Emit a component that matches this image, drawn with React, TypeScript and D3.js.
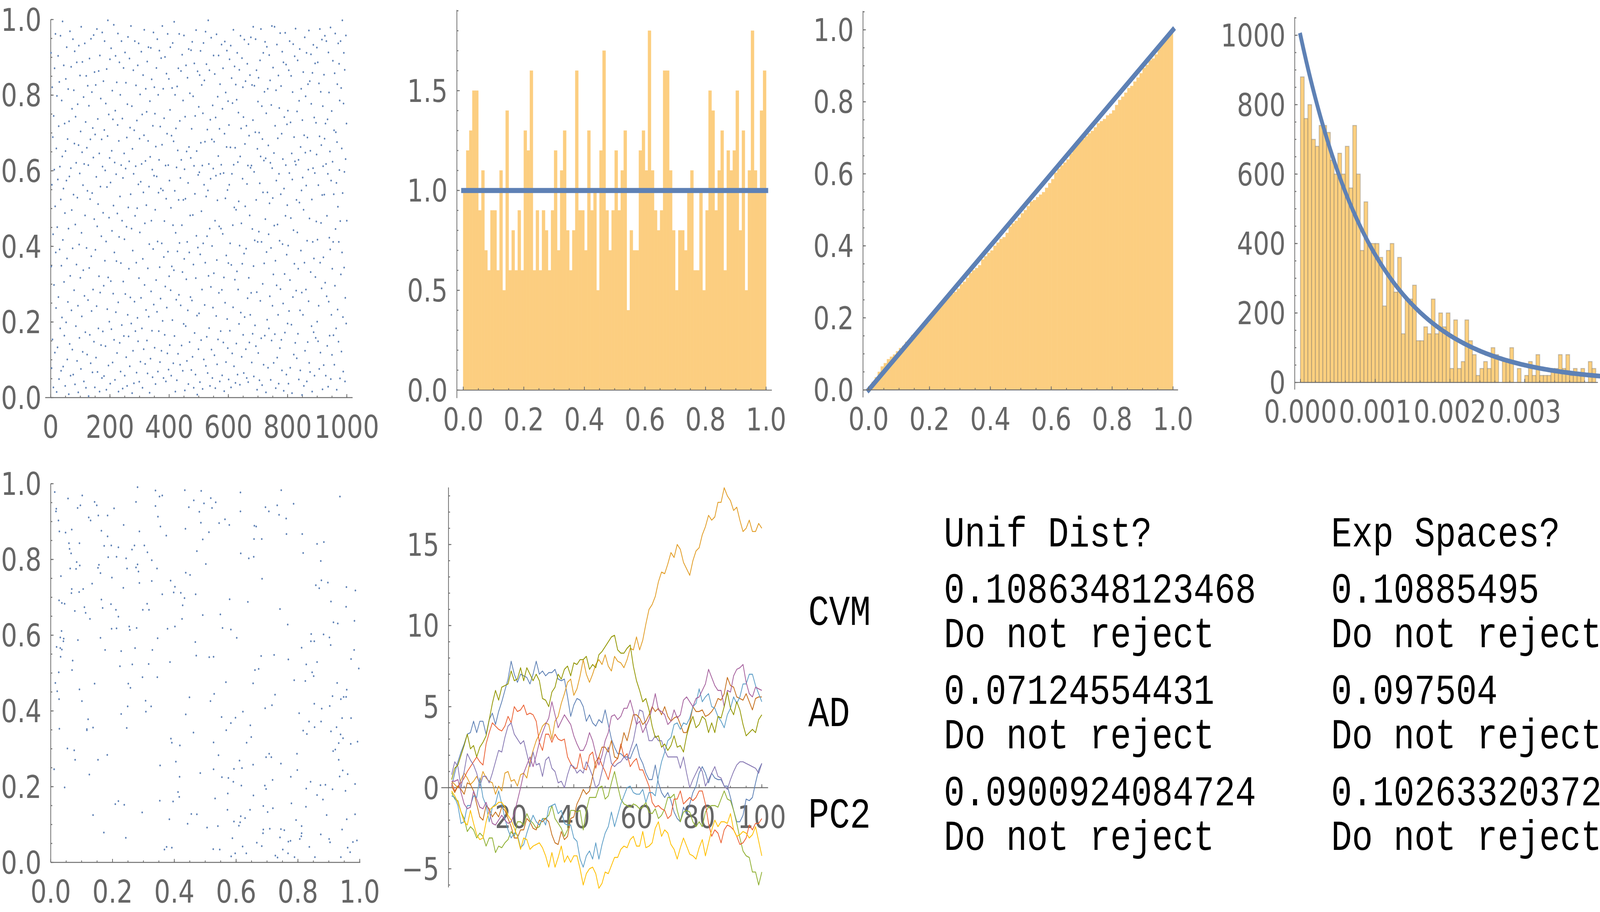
import * as d3 from "d3";

// ---------- data ----------

// 1000 uniform draws (top-left list plot, x = draw index)
const uniformDraws = [
  .912,.347,.078,.563,.821,.154,.689,.432,.027,.745,.298,.603,.871,.119,.506,.962,.384,.237,.659,.015,.798,.451,.133,.577,.904,
  .266,.718,.049,.835,.392,.611,.183,.957,.524,.071,.349,.786,.212,.638,.995,.417,.082,.553,.879,.306,.164,.725,.488,.031,.652,
  .843,.199,.574,.927,.368,.101,.684,.253,.816,.447,.009,.731,.585,.142,.969,.322,.058,.607,.875,.231,.496,.764,.127,.395,.948,
  .061,.537,.813,.284,.672,.916,.035,.458,.743,.189,.621,.352,.887,.097,.529,.776,.243,.014,.668,.931,.405,.158,.593,.852,.317,
  .704,.076,.981,.436,.215,.649,.888,.121,.562,.337,.795,.043,.618,.269,.937,.482,.173,.729,.026,.851,.396,.661,.114,.547,.825,
  .258,.615,.004,.772,.343,.897,.166,.525,.683,.091,.949,.374,.229,.808,.541,.067,.713,.286,.635,.959,.148,.472,.861,.027,.696,
  .391,.827,.106,.584,.242,.975,.453,.068,.737,.512,.183,.864,.321,.646,.016,.905,.278,.558,.791,.139,.427,.683,.052,.966,.611,
  .175,.489,.837,.296,.057,.708,.943,.362,.601,.136,.778,.413,.021,.869,.557,.234,.692,.998,.318,.085,.749,.476,.201,.634,.895,
  .037,.569,.308,.924,.181,.653,.441,.812,.093,.736,.275,.508,.986,.153,.384,.622,.047,.759,.904,.226,.591,.361,.834,.118,.487,
  .721,.963,.252,.016,.679,.425,.887,.145,.532,.801,.069,.356,.615,.943,.192,.468,.738,.024,.581,.307,.872,.163,.646,.419,.058,
  .913,.274,.606,.833,.107,.452,.688,.031,.776,.219,.954,.503,.162,.341,.625,.897,.083,.714,.265,.538,.983,.196,.447,.771,.012,
  .658,.389,.124,.866,.592,.038,.707,.254,.943,.481,.176,.612,.826,.357,.066,.733,.501,.211,.879,.149,.564,.937,.316,.042,.685,
  .437,.802,.095,.571,.264,.915,.618,.183,.749,.026,.367,.853,.543,.128,.694,.973,.298,.461,.089,.626,.817,.232,.509,.756,.151,
  .889,.064,.342,.679,.927,.214,.558,.406,.013,.784,.637,.103,.925,.281,.468,.842,.177,.603,.054,.719,.393,.966,.246,.587,.821,
  .132,.751,.497,.036,.664,.311,.872,.585,.227,.948,.413,.069,.801,.542,.176,.629,.918,.345,.094,.717,.262,.553,.898,.124,.408,
  .669,.983,.203,.548,.817,.052,.372,.739,.467,.166,.901,.294,.614,.043,.526,.857,.238,.698,.117,.962,.386,.615,.074,.843,.321,
  .574,.139,.761,.927,.284,.502,.058,.693,.347,.819,.205,.938,.456,.091,.678,.337,.994,.163,.547,.801,.016,.436,.712,.259,.609,
  .046,.823,.387,.654,.116,.871,.523,.272,.962,.409,.732,.087,.581,.244,.864,.629,.138,.456,.907,.332,.071,.786,.523,.195,.958,
  .367,.604,.019,.743,.526,.189,.879,.313,.651,.097,.412,.846,.231,.568,.036,.922,.663,.384,.147,.805,.482,.266,.634,.919,.073,
  .711,.257,.941,.108,.483,.797,.352,.026,.613,.884,.171,.539,.745,.061,.316,.972,.428,.652,.217,.008,.863,.397,.589,.128,.769,
  .223,.596,.853,.041,.379,.917,.674,.152,.493,.827,.286,.614,.023,.752,.408,.938,.101,.563,.839,.245,.677,.357,.968,.084,.532,
  .882,.161,.427,.709,.065,.548,.998,.322,.618,.184,.866,.447,.031,.735,.579,.293,.952,.127,.683,.401,.052,.773,.238,.606,.905,
  .329,.677,.112,.856,.468,.025,.741,.587,.216,.961,.364,.088,.522,.796,.154,.639,.905,.277,.453,.711,.043,.829,.592,.176,.447,
  .616,.934,.285,.059,.764,.433,.871,.146,.594,.318,.017,.698,.942,.251,.527,.807,.094,.376,.663,.918,.208,.549,.131,.784,.356,
  .048,.721,.563,.895,.177,.408,.662,.931,.027,.351,.845,.592,.117,.779,.456,.239,.973,.616,.083,.503,.876,.312,.661,.039,.828,
  .497,.143,.788,.334,.912,.061,.623,.286,.754,.519,.195,.867,.402,.034,.638,.957,.225,.712,.461,.108,.898,.354,.579,.821,.166,
  .742,.065,.381,.947,.213,.671,.506,.837,.128,.394,.719,.052,.565,.883,.263,.614,.041,.935,.317,.693,.146,.482,.853,.219,.608,
  .953,.277,.614,.093,.827,.446,.169,.734,.981,.348,.056,.597,.825,.416,.191,.702,.948,.136,.523,.866,.279,.021,.658,.412,.783,
  .118,.846,.439,.701,.046,.567,.892,.256,.638,.975,.157,.412,.771,.033,.684,.301,.543,.912,.087,.627,.355,.809,.164,.941,.472,
  .633,.014,.752,.385,.928,.206,.543,.817,.079,.667,.432,.183,.906,.514,.268,.839,.621,.047,.396,.774,.151,.983,.607,.243,.528,
  .873,.326,.092,.647,.455,.981,.168,.719,.362,.025,.813,.574,.297,.934,.106,.458,.686,.219,.852,.037,.592,.766,.415,.131,.964,
  .287,.538,.824,.153,.698,.072,.915,.406,.631,.249,.887,.018,.553,.742,.327,.172,.965,.481,.615,.881,.061,.378,.723,.509,.196,
  .759,.402,.037,.866,.229,.594,.943,.311,.079,.728,.475,.851,.193,.646,.012,.577,.808,.266,.935,.443,.114,.689,.354,.903,.625,
  .145,.976,.616,.283,.523,.104,.757,.437,.892,.169,.341,.629,.048,.785,.516,.922,.231,.072,.663,.389,.817,.548,.278,.007,.734,
  .582,.219,.861,.497,.031,.694,.357,.953,.124,.648,.797,.286,.561,.912,.043,.415,.688,.147,.829,.603,.255,.971,.092,.474,.837,
  .068,.653,.332,.908,.777,.189,.524,.016,.859,.412,.607,.933,.173,.368,.741,.058,.594,.884,.319,.158,.727,.466,.643,.926,.201,
  .418,.887,.149,.562,.243,.831,.076,.691,.975,.357,.119,.809,.462,.668,.289,.947,.536,.022,.771,.612,.371,.086,.854,.537,.685,
  .957,.304,.725,.058,.618,.943,.268,.481,.137,.736,.592,.029,.913,.254,.807,.423,.164,.651,.392,.979,.049,.574,.219,.758,.113,
  .341,.624,.891,.412,.165,.538,.707,.087,.858,.296,.963,.446,.702,.183,.568,.021,.676,.829,.233,.505,.937,.148,.412,.883,.602,
  .786,.051,.467,.943,.326,.819,.122,.659,.384,.998,.541,.213,.069,.778,.912,.344,.597,.867,.043,.264,.631,.958,.196,.725,.468,
];

// density histogram of the draws, 100 bins of width 0.01
const unitBinDensity = [
  1.0, 1.2, 1.3, 1.5, 1.5, 0.9, 1.1, 0.7, 0.6, 0.9,
  0.9, 0.6, 1.1, 0.5, 1.4, 0.6, 0.8, 0.6, 0.9, 0.6,
  1.3, 1.2, 1.6, 0.6, 0.9, 0.6, 0.9, 0.8, 0.6, 0.9,
  1.2, 0.7, 1.1, 1.3, 0.8, 0.6, 0.8, 1.6, 0.9, 0.9,
  0.7, 1.3, 0.9, 1.0, 0.5, 1.2, 1.7, 0.9, 0.7, 0.9,
  1.2, 0.9, 1.1, 1.3, 0.4, 0.8, 0.7, 0.7, 1.2, 1.3,
  1.1, 1.8, 1.1, 0.9, 0.8, 0.9, 1.6, 1.6, 1.1, 0.8,
  0.5, 0.8, 0.8, 0.7, 1.0, 1.1, 0.6, 0.6, 1.0, 0.5,
  0.9, 1.5, 1.4, 0.9, 1.1, 1.3, 0.6, 1.2, 1.1, 1.2,
  1.5, 0.8, 1.3, 0.5, 1.1, 1.8, 1.1, 1.0, 1.4, 1.6,
];

// density histogram of the spacings, bins of width 0.00005
const spacingBinWidth = 0.00005;
const spacingDensity = [
  880, 760, 800, 700, 680, 740, 740, 720, 640, 600,
  660, 600, 680, 560, 740, 600, 380, 520, 400, 400,
  400, 360, 220, 380, 400, 260, 360, 140, 240, 240,
  280, 120, 120, 160, 140, 240, 140, 200, 160, 200,
  40, 180, 40, 60, 180, 120, 80, 20, 40, 60,
  40, 100, 80, 0, 60, 60, 100, 0, 40, 0,
  20, 60, 20, 80, 20, 20, 20, 40, 40, 80,
  40, 80, 20, 40, 20, 40, 0, 60, 40,
];
const exponentialRate = 1000;

// points in the unit square (bottom-left)
const planeX = [
  .021,.347,.688,.915,.153,.502,.779,.264,.936,.418,.067,.621,.853,.196,.554,.742,.308,.985,.129,.471,.806,.033,.649,.287,.912,
  .583,.117,.436,.768,.251,.897,.045,.614,.329,.958,.186,.707,.492,.013,.836,.375,.579,.224,.961,.658,.101,.443,.786,.312,.527,
  .874,.238,.661,.096,.405,.929,.172,.553,.817,.036,.693,.281,.948,.469,.137,.602,.884,.354,.015,.739,.526,.211,.972,.388,.645,
  .079,.812,.473,.246,.991,.564,.127,.697,.345,.858,.056,.629,.903,.195,.417,.763,.032,.584,.276,.946,.161,.512,.826,.449,.092,
  .733,.368,.907,.142,.615,.841,.273,.496,.054,.687,.983,.325,.578,.209,.862,.437,.011,.746,.593,.168,.925,.386,.657,.243,.804,
  .455,.063,.716,.339,.889,.527,.184,.971,.402,.633,.258,.087,.798,.556,.943,.121,.684,.317,.862,.492,.027,.745,.205,.567,.939,
  .298,.854,.173,.609,.041,.777,.421,.958,.236,.532,.683,.094,.817,.378,.149,.714,.997,.263,.588,.853,.068,.434,.702,.176,.921,
  .641,.019,.384,.876,.522,.228,.969,.109,.655,.297,.814,.473,.035,.598,.742,.184,.935,.361,.513,.059,.827,.646,.281,.904,.425,
  .137,.762,.593,.045,.874,.313,.681,.219,.956,.487,.076,.638,.392,.827,.164,.914,.549,.027,.709,.352,.875,.213,.619,.084,.769,
  .506,.927,.247,.718,.113,.462,.837,.665,.031,.398,.954,.271,.583,.751,.142,.883,.416,.061,.694,.932,.327,.572,.017,.788,.256,
  .869,.183,.534,.972,.353,.066,.622,.811,.287,.447,.906,.125,.756,.344,.673,.028,.545,.893,.219,.614,.985,.093,.468,.727,.392,
  .048,.615,.843,.307,.789,.198,.481,.932,.573,.078,.726,.361,.945,.228,.659,.812,.105,.437,.982,.296,.706,.543,.164,.877,.031,
  .591,.327,.769,.154,.938,.427,.069,.688,.862,.249,.518,.993,.134,.776,.402,.617,.025,.851,.284,.547,.912,.197,.745,.463,.082,
  .723,.961,.235,.484,.028,.655,.873,.318,.597,.156,.829,.042,.683,.396,.957,.517,.276,.794,.088,.634,.355,.901,.219,.568,.846,
  .374,.093,.656,.902,.213,.541,.767,.117,.986,.339,.611,.855,.071,.486,.719,.278,.943,.153,.527,.824,.036,.695,.412,.978,.254,
  .812,.433,.018,.697,.346,.881,.161,.529,.734,.068,.907,.244,.613,.956,.389,.102,.842,.575,.303,.667,.026,.797,.451,.123,.939,
];
const planeY = [
  .452,.913,.087,.634,.271,.788,.156,.523,.966,.309,.711,.042,.584,.837,.225,.669,.398,.127,.903,.546,.062,.756,.331,.874,.193,
  .615,.349,.881,.024,.472,.739,.198,.927,.561,.114,.806,.287,.653,.978,.372,.041,.695,.518,.233,.854,.426,.102,.947,.683,.317,
  .796,.152,.508,.943,.266,.631,.079,.384,.817,.562,.203,.991,.437,.708,.125,.593,.846,.256,.474,.918,.035,.667,.381,.744,.139,
  .271,.567,.822,.355,.058,.906,.643,.194,.489,.732,.961,.117,.413,.682,.226,.867,.543,.016,.779,.328,.593,.872,.147,.436,.714,
  .943,.034,.689,.472,.816,.213,.566,.948,.301,.077,.638,.412,.891,.154,.529,.765,.246,.983,.108,.672,.357,.529,.807,.065,.394,
  .128,.776,.415,.982,.205,.543,.861,.313,.728,.024,.461,.936,.244,.619,.087,.378,.749,.524,.178,.853,.692,.261,.935,.476,.014,
  .667,.357,.836,.097,.584,.226,.712,.456,.891,.169,.043,.784,.348,.617,.943,.278,.512,.826,.064,.419,.722,.983,.133,.561,.298,
  .803,.569,.114,.745,.936,.392,.027,.674,.258,.489,.867,.127,.611,.382,.066,.916,.227,.708,.542,.843,.195,.362,.787,.053,.643,
  .356,.908,.247,.683,.074,.819,.545,.162,.437,.981,.296,.688,.039,.523,.876,.294,.655,.431,.089,.966,.372,.618,.249,.793,.536,
  .092,.474,.776,.218,.659,.343,.041,.887,.566,.713,.189,.837,.368,.034,.952,.602,.173,.828,.407,.271,.743,.139,.927,.481,.614,
  .724,.284,.951,.537,.163,.816,.398,.069,.738,.938,.574,.232,.085,.776,.511,.353,.896,.125,.649,.977,.207,.843,.582,.018,.316,
  .871,.122,.603,.427,.014,.752,.926,.315,.182,.664,.443,.969,.243,.558,.889,.077,.722,.391,.561,.132,.927,.283,.694,.406,.594,
  .213,.798,.055,.916,.338,.679,.508,.149,.841,.412,.962,.319,.736,.057,.623,.203,.903,.492,.768,.034,.439,.617,.088,.956,.775,
  .548,.039,.725,.236,.874,.473,.204,.667,.024,.786,.339,.591,.854,.161,.727,.426,.952,.112,.587,.316,.887,.062,.832,.349,.502,
  .863,.457,.177,.594,.807,.096,.628,.352,.718,.941,.269,.014,.533,.897,.143,.619,.381,.778,.246,.479,.685,.938,.186,.054,.623,
  .096,.698,.934,.278,.592,.166,.764,.445,.013,.879,.346,.803,.106,.675,.327,.969,.584,.223,.837,.052,.502,.287,.759,.911,.431,
];

// ten random walks, steps 1..100
const walkBlue = [
  0.1, 0.9, 1.6, 2.2, 2.7, 3.3, 3.4, 4.1, 3.4, 4.1, 4.1, 3.3, 4.2, 4.6, 3.9, 4.7, 5.3, 6.0, 6.7, 7.8,
  7.0, 6.5, 7.0, 6.9, 6.8, 6.4, 7.0, 7.8, 7.0, 7.2, 6.9, 7.1, 7.1, 7.3, 6.7, 6.6, 6.7, 5.6, 4.4, 5.1,
  5.5, 5.4, 5.0, 4.1, 4.5, 4.0, 3.8, 4.2, 4.0, 4.8, 3.9, 3.0, 2.5, 2.1, 2.1, 1.9, 1.9, 1.8, 2.3, 2.7,
  1.9, 1.5, 0.9, 0.5, 0.5, 1.4, 0.3, -0.3, -0.6, -0.3, -0.8, -1.5, -1.9, -2.1, -1.2, -1.6, -1.0, -0.3, 0.1, 0.9,
  1.3, 0.9, 0.3, 0.9, 0.6, 0.5, 0.5, 0.1, 0.1, -0.6, -1.4, -2.1, -2.1, -1.7, -0.7, -0.8, -0.6, 0.3, 1.1, 1.5,
];
const walkOrange = [
  0.4, 0.2, 0.0, 0.5, 0.9, 0.6, 0.2, 0.4, 0.7, 0.3, 1.0, 0.6, 0.4, 0.3, -0.4, 0.1, -0.2, 0.9, 1.0, 0.4,
  0.5, 0.1, 0.8, 0.9, 0.6, 1.6, 2.3, 2.9, 3.3, 3.8, 4.0, 3.9, 3.0, 4.1, 4.4, 5.2, 5.8, 6.5, 6.7, 5.7,
  6.1, 6.9, 7.9, 7.0, 6.5, 7.0, 7.6, 7.9, 7.6, 8.2, 7.5, 7.2, 8.1, 7.8, 7.7, 7.4, 7.9, 8.6, 8.5, 9.3,
  8.5, 9.1, 10.1, 11.0, 11.3, 11.8, 12.7, 13.3, 13.2, 13.8, 14.5, 14.2, 15.0, 14.7, 13.9, 13.5, 13.1, 14.0, 14.6, 14.8,
  15.6, 16.1, 16.8, 16.5, 16.7, 17.6, 17.6, 18.5, 18.0, 17.7, 17.1, 17.3, 16.5, 15.8, 16.0, 16.5, 15.8, 15.8, 16.3, 16.0,
];
const walkGreen = [
  -0.3, -0.7, -0.8, -1.5, -1.9, -2.7, -2.4, -2.6, -3.1, -2.8, -3.0, -3.6, -3.1, -3.1, -4.0, -3.6, -3.7, -3.4, -3.2, -2.7,
  -3.0, -2.1, -2.1, -2.3, -1.6, -2.0, -2.2, -2.5, -2.4, -1.9, -1.9, -1.7, -1.1, -1.9, -2.2, -2.5, -3.0, -2.6, -1.4, -1.4,
  -1.5, -1.4, -2.6, -1.4, -0.6, -0.6, -0.6, 0.0, 0.1, -0.7, -0.5, 0.3, 1.0, 0.1, -0.7, -1.0, -1.1, -1.2, -1.0, -1.1,
  -1.3, -1.2, -0.9, -1.5, -1.6, -1.3, -1.9, -1.7, -1.3, -0.6, -0.6, -0.4, -1.4, -2.1, -1.5, -1.4, -1.5, -2.1, -2.4, -2.1,
  -2.4, -1.5, -1.2, -1.1, -1.1, -1.2, -0.7, -0.2, -0.7, -0.8, -1.4, -2.2, -3.1, -3.9, -4.2, -4.3, -5.2, -5.2, -6.0, -5.2,
];
const walkRed = [
  0.3, -0.2, 0.1, 0.3, 0.6, 1.0, 1.3, 1.6, 1.9, 1.6, 1.4, 2.7, 3.4, 4.0, 3.8, 3.6, 3.5, 3.8, 4.4, 4.0,
  5.0, 4.7, 4.8, 5.1, 4.5, 4.6, 4.5, 4.1, 2.8, 2.3, 3.3, 3.3, 2.8, 3.3, 3.0, 2.9, 3.0, 1.9, 1.5, 1.2,
  1.2, 2.1, 1.2, 1.1, 2.0, 2.2, 1.2, 1.9, 1.4, 1.0, 0.5, 1.3, 1.6, 1.8, 2.7, 1.9, 2.1, 1.3, 1.6, 1.8,
  1.1, 1.1, 0.6, 0.1, -0.9, -1.2, -1.1, -1.3, -1.4, -1.9, -1.7, -0.7, -0.7, -0.2, -1.0, -0.8, -0.6, -0.8, -0.6, -0.2,
  -0.2, -1.0, -2.2, -3.0, -2.6, -2.8, -3.4, -2.6, -2.3, -2.4, -2.6, -3.0, -3.5, -3.4, -3.1, -2.3, -2.6, -2.2, -2.2, -1.9,
];
const walkPurple = [
  0.8, 1.6, 1.3, 0.0, 1.0, 2.1, 1.7, 1.4, 0.9, 0.1, 0.7, 0.7, 0.3, 0.9, 1.6, 2.3, 2.2, 3.1, 3.8, 4.0,
  3.3, 3.0, 2.7, 2.9, 2.1, 1.3, 2.2, 1.4, 1.5, 0.7, 1.7, 1.9, 1.2, 1.0, 0.3, 0.4, 0.0, 0.8, 1.4, 1.3,
  0.9, 1.1, 0.9, 1.6, 1.2, 0.7, 0.0, 0.2, 1.0, 1.9, 2.5, 1.5, 1.3, 1.5, 1.6, 1.9, 1.7, 2.3, 2.9, 3.9,
  4.8, 4.7, 3.8, 2.9, 2.9, 3.2, 2.9, 2.9, 2.3, 1.9, 1.9, 1.9, 1.9, 1.2, 1.9, 0.9, 0.0, 0.5, 0.9, 1.3,
  1.0, 0.1, 0.5, 0.9, 1.3, 0.7, 0.6, 0.1, -0.1, 0.5, 1.0, 1.4, 1.6, 1.6, 1.5, 1.4, 1.3, 1.2, 0.9, 1.5,
];
const walkBrown = [
  0.1, -0.3, 0.1, -0.1, -0.4, 0.3, 0.2, -0.2, -1.0, -1.8, -2.0, -1.1, -1.3, -1.8, -1.5, -1.8, -1.2, -1.4, -1.9, -2.4,
  -3.1, -3.1, -2.6, -2.6, -1.9, -2.1, -2.5, -2.6, -2.0, -2.1, -1.9, -2.1, -2.9, -3.4, -3.5, -2.7, -3.2, -3.0, -1.9, -1.8,
  -1.0, -0.6, -0.1, -0.4, -0.2, 0.7, 1.6, 1.9, 2.5, 2.5, 2.2, 2.9, 1.9, 1.8, 2.5, 3.4, 2.9, 3.7, 4.5, 4.5,
  4.3, 3.9, 4.1, 4.5, 5.0, 4.7, 4.9, 4.5, 5.0, 4.4, 4.1, 4.3, 4.4, 3.9, 3.4, 3.4, 4.0, 5.0, 4.7, 4.7,
  4.8, 4.4, 4.5, 4.7, 5.0, 5.5, 5.4, 5.8, 6.8, 6.3, 6.2, 5.6, 5.5, 5.4, 5.8, 5.3, 4.8, 5.5, 5.6, 5.6,
];
const walkSky = [
  -0.5, -0.6, -1.1, -2.2, -2.1, -1.1, -1.1, -0.5, -0.6, 0.6, -0.6, -1.1, -2.1, -1.2, -1.0, -0.2, -1.0, -1.9, -2.6, -3.1,
  -2.8, -2.9, -3.7, -3.5, -2.8, -2.2, -1.7, -2.1, -2.3, -1.9, -2.3, -1.2, -1.1, -1.0, -1.6, -1.4, -2.2, -2.3, -2.3, -3.1,
  -3.3, -4.4, -4.9, -4.2, -3.9, -4.4, -3.4, -4.4, -3.5, -2.8, -2.4, -1.5, -2.4, -1.7, -1.0, -0.5, 0.0, 0.1, -0.3, -0.4,
  -0.4, -0.1, -0.9, -0.3, -0.3, -0.5, 0.7, 1.6, 2.2, 2.9, 3.1, 3.9, 4.0, 3.6, 4.0, 3.9, 4.3, 5.0, 5.2, 6.1,
  5.3, 5.6, 5.8, 5.0, 4.9, 4.4, 4.1, 3.7, 4.5, 4.9, 5.6, 5.2, 5.6, 6.4, 6.4, 7.0, 7.0, 6.3, 5.8, 5.3,
];
const walkYellow = [
  -0.2, -0.5, -0.9, -1.5, -2.1, -2.3, -1.4, -2.2, -2.9, -3.2, -3.1, -2.1, -1.4, -1.2, -1.1, -0.9, -0.9, -1.2, -1.7, -2.0,
  -2.5, -3.0, -3.8, -3.1, -3.2, -3.8, -3.6, -3.5, -3.4, -3.7, -4.2, -4.9, -4.0, -4.9, -4.3, -3.6, -4.6, -4.2, -4.6, -4.2,
  -4.2, -5.0, -6.0, -5.3, -5.0, -4.9, -5.3, -6.2, -5.9, -5.2, -5.3, -4.8, -4.3, -4.3, -3.8, -3.6, -3.7, -3.2, -3.0, -3.6,
  -3.6, -2.7, -3.7, -3.6, -3.4, -2.5, -2.1, -3.0, -2.6, -2.8, -3.5, -3.8, -4.4, -3.7, -3.1, -3.6, -4.1, -4.2, -4.4, -3.7,
  -3.2, -4.2, -3.4, -2.6, -2.0, -2.4, -2.1, -2.1, -2.2, -1.6, -2.6, -3.0, -2.9, -2.7, -2.8, -3.1, -2.9, -2.4, -3.3, -4.2,
];
const walkMagenta = [
  0.4, 0.4, 0.5, -0.3, -1.0, -1.3, -1.2, -0.2, -0.7, -1.2, -1.3, -0.9, -1.5, -2.2, -2.3, -2.0, -1.7, -2.0, -2.2, -2.1,
  -1.6, -0.8, 0.0, 0.9, 1.4, 1.9, 1.3, 2.0, 2.8, 3.4, 3.9, 4.3, 5.3, 4.5, 3.7, 4.1, 4.5, 4.2, 3.9, 3.2,
  2.7, 2.3, 2.3, 2.7, 3.4, 2.9, 2.1, 1.4, 2.0, 2.9, 3.4, 4.4, 4.5, 4.2, 4.4, 4.9, 4.9, 5.4, 4.7, 3.9,
  4.1, 3.4, 3.8, 4.2, 4.9, 5.8, 4.8, 4.7, 4.5, 3.9, 4.1, 4.8, 4.3, 4.5, 5.4, 5.6, 5.3, 5.0, 5.5, 5.6,
  6.0, 6.4, 7.3, 6.8, 6.3, 6.0, 6.0, 5.0, 6.0, 5.9, 6.9, 7.3, 7.4, 7.6, 6.5, 5.8, 5.6, 6.2, 6.1, 6.0,
];
const walkOlive = [
  0.5, 1.2, 1.4, 2.0, 2.6, 3.3, 2.4, 2.6, 1.9, 2.5, 2.8, 3.2, 4.2, 5.2, 6.0, 5.4, 6.2, 6.3, 6.4, 7.2,
  6.6, 6.7, 7.4, 6.6, 7.4, 7.0, 6.6, 7.0, 6.6, 5.5, 5.4, 5.0, 5.9, 6.2, 7.0, 6.7, 7.3, 7.5, 6.9, 7.7,
  7.6, 7.9, 7.9, 8.1, 7.3, 7.6, 7.4, 8.2, 8.4, 8.7, 9.0, 9.3, 9.4, 8.5, 8.3, 8.3, 8.6, 8.8, 7.5, 6.6,
  6.0, 5.3, 5.5, 4.8, 3.8, 3.1, 3.2, 2.5, 2.7, 2.3, 2.6, 3.2, 2.5, 2.6, 2.2, 3.2, 3.9, 4.4, 3.7, 3.9,
  4.4, 4.2, 3.4, 4.0, 3.4, 4.4, 4.3, 5.0, 5.9, 4.9, 4.5, 5.3, 4.8, 3.9, 3.2, 3.4, 3.6, 3.4, 4.2, 4.5,
];
const walks = [walkBlue, walkOrange, walkGreen, walkRed, walkPurple, walkBrown, walkSky, walkYellow, walkMagenta, walkOlive];
const walkColors = ["#5e81b5", "#e19c24", "#8fb032", "#eb6235", "#8778b3", "#c56e1a", "#5d9ec7", "#ffbf00", "#a5609d", "#929600"];

// test results table
const columnHeads = ["Unif Dist?", "Exp Spaces?"];
const testNames = ["CVM", "AD", "PC2"];
const uniformPValues = ["0.1086348123468", "0.07124554431", "0.0900924084724"];
const spacingPValues = ["0.10885495", "0.097504", "0.10263320372"];
const verdicts = ["Do not reject", "Do not reject", "Do not reject"];

// ---------- drawing ----------

const W = 5028;
const H = 2335;
const AXIS = "#6e6e6e";
const LABEL = "#666666";
const BLUE = "#5e81b5";
const FILL = "#fcce80";

type Lin = d3.ScaleLinear<number, number>;

const steps = (a: number, b: number, s: number) =>
  d3.range(Math.round((b - a) / s) + 1).map((i) => +(a + i * s).toFixed(7));

interface AxesProps {
  x: Lin;
  y: Lin;
  xSpan: [number, number];
  ySpan: [number, number];
  originX: number;
  xMajor: number[];
  xMinor: number[];
  yMajor: number[];
  yMinor: number[];
  xFmt: (v: number) => string;
  yFmt: (v: number) => string;
}

function Axes({ x, y, xSpan, ySpan, originX, xMajor, xMinor, yMajor, yMinor, xFmt, yFmt }: AxesProps) {
  const ay = y(0);
  const ax = x(originX);
  return (
    <g>
      <g stroke={AXIS} strokeWidth={2.4}>
        <line x1={x(xSpan[0])} x2={x(xSpan[1])} y1={ay} y2={ay} />
        <line x1={ax} x2={ax} y1={y(ySpan[0])} y2={y(ySpan[1])} />
        {xMinor.map((v, i) => (
          <line key={"xn" + i} x1={x(v)} x2={x(v)} y1={ay} y2={ay - 5} />
        ))}
        {xMajor.map((v, i) => (
          <line key={"xj" + i} x1={x(v)} x2={x(v)} y1={ay} y2={ay - 9} />
        ))}
        {yMinor.map((v, i) => (
          <line key={"yn" + i} x1={ax} x2={ax + 5} y1={y(v)} y2={y(v)} />
        ))}
        {yMajor.map((v, i) => (
          <line key={"yj" + i} x1={ax} x2={ax + 9} y1={y(v)} y2={y(v)} />
        ))}
      </g>
      <g fill={LABEL} fontFamily="DejaVu Sans" fontSize={80}>
        {xMajor.map((v, i) => (
          <text key={"xl" + i} x={x(v)} y={ay + 103} textAnchor="middle">
            {xFmt(v)}
          </text>
        ))}
        {yMajor.map((v, i) => (
          <text key={"yl" + i} x={ax - 29} y={y(v)} dy="0.36em" textAnchor="end">
            {yFmt(v)}
          </text>
        ))}
      </g>
    </g>
  );
}

const f1 = d3.format(".1f");
const fInt = d3.format("d");
const f3 = d3.format(".3f");

function DrawsPlot() {
  const x = d3.scaleLinear().domain([0, 1000]).range([159.4, 1089.8]);
  const y = d3.scaleLinear().domain([0, 1]).range([1018, 50]);
  return (
    <g>
      <Axes x={x} y={y} xSpan={[-18.7, 1019.6]} ySpan={[0, 1]} originX={0}
        xMajor={steps(0, 1000, 200)} xMinor={steps(0, 1000, 50)}
        yMajor={steps(0, 1, 0.2)} yMinor={steps(0, 1, 0.05)} xFmt={fInt} yFmt={f1} />
      {uniformDraws.map((v, i) => (
        <circle key={i} cx={x(i + 1)} cy={y(v)} r={2.5} fill={BLUE} />
      ))}
    </g>
  );
}

function DensityPlot() {
  const x = d3.scaleLinear().domain([0, 1]).range([1455.7, 2407.5]);
  const y = d3.scaleLinear().domain([0, 1]).range([998.9, 487.7]);
  const w = 1 / unitBinDensity.length;
  return (
    <g>
      {unitBinDensity.map((d, i) => (
        <rect key={i} x={x(i * w)} y={y(d)} width={x((i + 1) * w) - x(i * w)} height={y(0) - y(d)}
          fill={FILL} stroke={FILL} strokeWidth={0.8} />
      ))}
      <line x1={x(0)} x2={x(1)} y1={y(1)} y2={y(1)} stroke={BLUE} strokeWidth={13} strokeLinecap="square" />
      <Axes x={x} y={y} xSpan={[-0.021, 1.019]} ySpan={[-0.04, 1.904]} originX={-0.021}
        xMajor={steps(0, 1, 0.2)} xMinor={steps(0, 1, 0.05)}
        yMajor={steps(0, 1.5, 0.5)} yMinor={steps(0, 1.9, 0.1)} xFmt={f1} yFmt={f1} />
    </g>
  );
}

function CumulativePlot() {
  const x = d3.scaleLinear().domain([0, 1]).range([2729.6, 3686.2]);
  const y = d3.scaleLinear().domain([0, 1]).range([998.2, 76.3]);
  const w = 1 / unitBinDensity.length;
  const cum = Array.from(d3.cumsum(unitBinDensity.map((d) => d * w)));
  return (
    <g>
      {cum.map((c, i) => (
        <rect key={i} x={x(i * w)} y={y(c)} width={x((i + 1) * w) - x(i * w)} height={y(0) - y(c)}
          fill={FILL} stroke={FILL} strokeWidth={0.8} />
      ))}
      <line x1={x(0)} x2={x(1)} y1={y(0)} y2={y(1)} stroke={BLUE} strokeWidth={13} strokeLinecap="square" />
      <Axes x={x} y={y} xSpan={[-0.0184, 1.0165]} ySpan={[-0.021, 1.0525]} originX={-0.0184}
        xMajor={steps(0, 1, 0.2)} xMinor={steps(0, 1, 0.05)}
        yMajor={steps(0, 1, 0.2)} yMinor={steps(0, 1.05, 0.05)} xFmt={f1} yFmt={f1} />
    </g>
  );
}

function SpacingPlot() {
  const x = d3.scaleLinear().domain([0, 0.001]).range([4086.6, 4321.6]);
  const y = d3.scaleLinear().domain([0, 1000]).range([979.1, 90.2]);
  const curve = d3
    .line<number>()
    .x((t) => x(t))
    .y((t) => y(exponentialRate * Math.exp(-exponentialRate * t)));
  const ts = d3.range(0, 0.00401, 0.00002);
  return (
    <g>
      {spacingDensity.map((d, i) =>
        d > 0 ? (
          <rect key={i} x={x(i * spacingBinWidth)} y={y(d)}
            width={x((i + 1) * spacingBinWidth) - x(i * spacingBinWidth)} height={y(0) - y(d)}
            fill="#fdd07f" stroke="rgba(96,96,96,0.35)" strokeWidth={2.7} />
        ) : null
      )}
      <path d={curve(ts) ?? ""} fill="none" stroke={BLUE} strokeWidth={12} strokeLinecap="square" />
      <Axes x={x} y={y} xSpan={[-0.0000762, 0.003978]} ySpan={[-20.6, 1052]} originX={-0.0000762}
        xMajor={steps(0, 0.003, 0.001)} xMinor={steps(0, 0.0038, 0.0002)}
        yMajor={steps(0, 1000, 200)} yMinor={steps(0, 1050, 50)} xFmt={f3} yFmt={fInt} />
    </g>
  );
}

function PlanePlot() {
  const x = d3.scaleLinear().domain([0, 1]).range([159.4, 1130.4]);
  const y = d3.scaleLinear().domain([0, 1]).range([2208, 1238.4]);
  return (
    <g>
      <Axes x={x} y={y} xSpan={[0, 1.0018]} ySpan={[0, 1]} originX={0}
        xMajor={steps(0, 1, 0.2)} xMinor={steps(0, 1, 0.05)}
        yMajor={steps(0, 1, 0.2)} yMinor={steps(0, 1, 0.05)} xFmt={f1} yFmt={f1} />
      {planeX.map((px, i) => (
        <circle key={i} cx={x(px)} cy={y(planeY[i])} r={2.5} fill={BLUE} />
      ))}
    </g>
  );
}

function WalkPlot() {
  const x = d3.scaleLinear().domain([0, 100]).range([1409.4, 2394]);
  const y = d3.scaleLinear().domain([0, 15]).range([2016.8, 1394.1]);
  const line = d3
    .line<number>()
    .x((_, i) => x(i + 1))
    .y((v) => y(v));
  return (
    <g>
      <Axes x={x} y={y} xSpan={[-2.3, 102]} ySpan={[-6.15, 18.52]} originX={0}
        xMajor={[20, 40, 60, 80, 100]} xMinor={steps(5, 100, 5)}
        yMajor={[-5, 0, 5, 10, 15]} yMinor={steps(-6, 18, 1)} xFmt={fInt} yFmt={fInt} />
      {walks.map((w, k) => (
        <path key={k} d={line(w) ?? ""} fill="none" stroke={walkColors[k]} strokeWidth={2.4}
          strokeLinejoin="round" />
      ))}
    </g>
  );
}

function ResultsTable() {
  const colX = [2966, 4183];
  const rowBase = 1543;
  const rowStep = 259.5;
  const lineStep = 114;
  return (
    <g fontFamily="Liberation Mono" fontSize={109} fill="#000">
      {columnHeads.map((h, j) => (
        <text key={h} x={colX[j]} y={1399}>{h}</text>
      ))}
      {testNames.map((name, i) => {
        const base = rowBase + i * rowStep;
        return (
          <g key={name}>
            <text x={2540} y={base + lineStep / 2}>{name}</text>
            <text x={colX[0]} y={base}>{uniformPValues[i]}</text>
            <text x={colX[0]} y={base + lineStep}>{verdicts[i]}</text>
            <text x={colX[1]} y={base}>{spacingPValues[i]}</text>
            <text x={colX[1]} y={base + lineStep}>{verdicts[i]}</text>
          </g>
        );
      })}
    </g>
  );
}

export default function App() {
  return (
    <svg
      viewBox={`0 0 ${W} ${H}`}
      preserveAspectRatio="none"
      style={{ position: "fixed", left: 0, top: 0, width: "100vw", height: "100vh", background: "#fff" }}
    >
      <DrawsPlot />
      <DensityPlot />
      <CumulativePlot />
      <SpacingPlot />
      <PlanePlot />
      <WalkPlot />
      <ResultsTable />
    </svg>
  );
}
